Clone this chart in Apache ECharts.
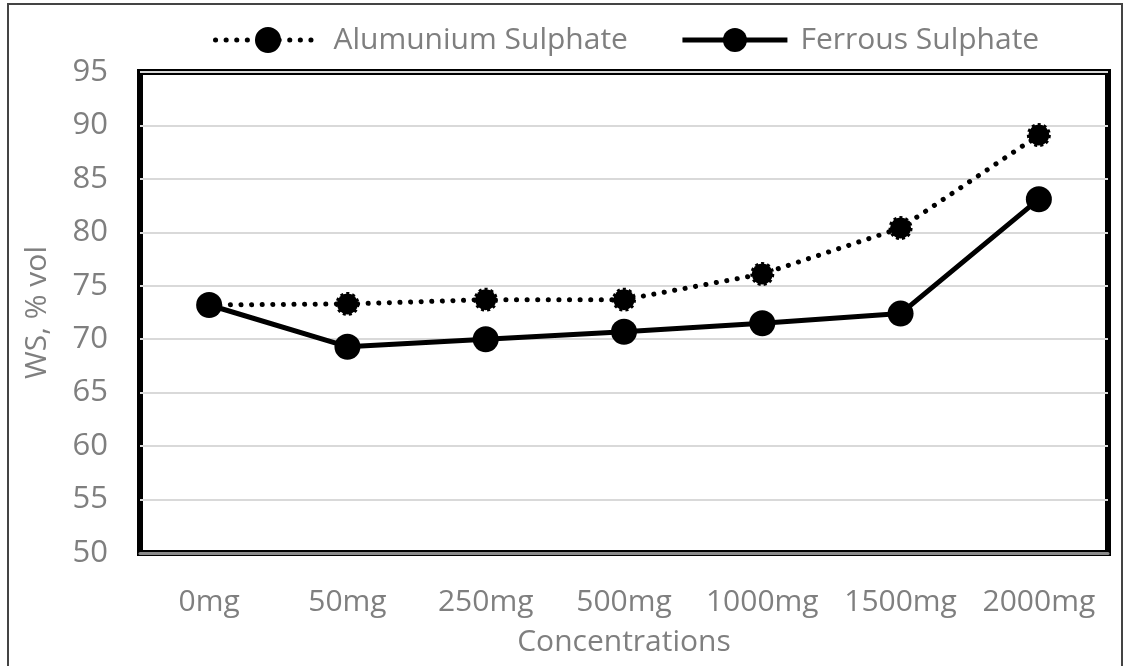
<!DOCTYPE html>
<html>
<head>
    <meta charset="utf-8">
    <title>WS vs concentration</title>
    <script src="https://cdn.jsdelivr.net/npm/echarts@6/dist/echarts.min.js"></script>
    <style>
        html, body { margin: 0; padding: 0; background: #fff; }
    </style>
</head>
<body>
    <div id="main" style="width: 1123px;height:666px;"></div>
    <script type="text/javascript">
        // data
        var categories = ['0mg', '50mg', '250mg', '500mg', '1000mg', '1500mg', '2000mg'];
        var alumSulphate = [73.2, 73.3, 73.7, 73.7, 76.1, 80.4, 89.1];
        var ferrousSulphate = [73.2, 69.3, 70.0, 70.7, 71.5, 72.4, 83.1];
        var yTicks = { min: 50, max: 95, step: 5 };

        var fontFam = '"Open Sans", sans-serif';
        var grey = '#7f7f7f';

        var myChart = echarts.init(document.getElementById('main'));

        var option = {
            backgroundColor: '#fff',
            animation: false,
            graphic: [{
                // outer frame of the figure
                type: 'rect',
                shape: { x: 8, y: 4, width: 1114, height: 700 },
                style: { fill: 'none', stroke: '#444', lineWidth: 2 },
                z: -1
            }],
            legend: {
                top: 20,
                left: 208,
                itemWidth: 105,
                itemHeight: 30,
                itemGap: 52,
                textStyle: { color: grey, fontSize: 30, fontFamily: fontFam, padding: [0, 0, 0, 8] },
                data: [
                    { name: 'Alumunium Sulphate', lineStyle: { width: 5 } },
                    { name: 'Ferrous Sulphate', lineStyle: { width: 5 } }
                ]
            },
            grid: {
                left: 140,
                right: 15,
                top: 72,
                bottom: 113,
                show: true,
                borderColor: '#000',
                borderWidth: 6
            },
            xAxis: {
                type: 'category',
                data: categories,
                boundaryGap: true,
                name: 'Concentrations',
                nameLocation: 'middle',
                nameGap: 74,
                nameTextStyle: { color: grey, fontSize: 30, fontFamily: fontFam },
                axisLine: { lineStyle: { color: '#8a8a8a', width: 3 } },
                axisTick: { show: false },
                axisLabel: { color: grey, fontSize: 30, fontFamily: fontFam, margin: 34, interval: 0 }
            },
            yAxis: {
                type: 'value',
                min: yTicks.min,
                max: yTicks.max,
                interval: yTicks.step,
                name: 'WS, % vol',
                nameLocation: 'middle',
                nameGap: 88,
                nameTextStyle: { color: grey, fontSize: 30, fontFamily: fontFam },
                axisLine: { show: false },
                axisTick: { show: false },
                axisLabel: { color: grey, fontSize: 31, fontFamily: fontFam, margin: 32 },
                splitLine: { lineStyle: { color: '#d9d9d9', width: 2 } }
            },
            series: [
                {
                    name: 'Alumunium Sulphate',
                    type: 'line',
                    data: alumSulphate,
                    symbol: 'circle',
                    symbolSize: 21,
                    itemStyle: { color: '#000', borderColor: '#000', borderWidth: 3, borderType: 'dotted' },
                    lineStyle: { color: '#000', width: 5, type: [0.1, 10.5], cap: 'round' },
                    z: 2
                },
                {
                    name: 'Ferrous Sulphate',
                    type: 'line',
                    data: ferrousSulphate,
                    symbol: 'circle',
                    symbolSize: 26,
                    itemStyle: { color: '#000' },
                    lineStyle: { color: '#000', width: 5 },
                    z: 3
                }
            ]
        };

        myChart.setOption(option);
    </script>
</body>
</html>
